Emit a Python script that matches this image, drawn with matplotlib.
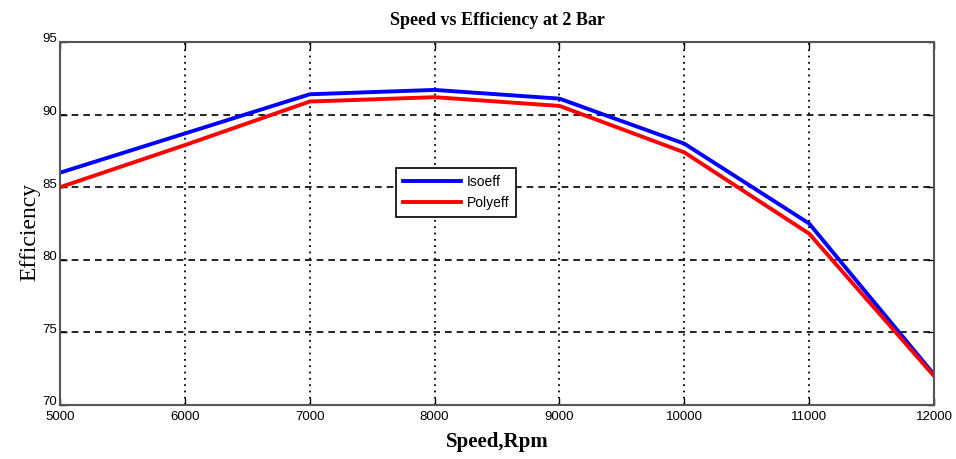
import matplotlib.pyplot as plt
import matplotlib.transforms as mtransforms

# speed (rpm) and efficiencies
speed = [5000, 6000, 7000, 8000, 9000, 10000, 11000, 12000]
isoeff = [86.0, 88.7, 91.4, 91.7, 91.1, 88.0, 82.5, 72.1]
polyeff = [85.0, 87.9, 90.9, 91.2, 90.6, 87.4, 81.8, 72.0]

x_ticks = [5000, 6000, 7000, 8000, 9000, 10000, 11000, 12000]
y_ticks = [70, 75, 80, 85, 90, 95]

tick_font = ['Liberation Sans Narrow', 'Liberation Sans', 'DejaVu Sans']

fig = plt.figure(figsize=(9.56, 4.59), dpi=100)
ax = fig.add_axes([0.0628, 0.1176, 0.9142, 0.7909])

ax.plot(speed, isoeff, color='blue', lw=2.8, label='Isoeff')
ax.plot(speed, polyeff, color='red', lw=2.8, label='Polyeff')

ax.set_xlim(5000, 12000)
ax.set_ylim(70, 95)
ax.set_xticks(x_ticks)
ax.set_yticks(y_ticks)

# matlab style grid: dashed horizontal, dotted vertical
ax.xaxis.grid(True, linestyle=(0, (1, 2.5)), color='black', lw=1.3)
ax.yaxis.grid(True, linestyle=(0, (4, 3)), color='black', lw=1.2)

ax.tick_params(direction='in', top=True, right=True, length=5, width=1,
               labelsize=9.5, pad=2)
ax.tick_params(axis='x', pad=4)
# y labels sit a little above their ticks in the original
up = mtransforms.ScaledTranslation(0, 3 / 72, fig.dpi_scale_trans)
for lab in ax.get_yticklabels():
    lab.set_transform(lab.get_transform() + up)
for lab in ax.get_xticklabels() + ax.get_yticklabels():
    lab.set_family(tick_font)
for s in ax.spines.values():
    s.set_color('#555555')
    s.set_linewidth(1.5)

ax.set_title('Speed vs Efficiency at 2 Bar', family='Liberation Serif',
             fontweight='bold', fontsize=13, pad=12)
ax.set_xlabel('Speed,Rpm', family='Liberation Serif', fontweight='bold',
              fontsize=15, labelpad=7)
ax.set_ylabel('Efficiency', family='Liberation Serif', fontsize=17)
ax.yaxis.set_label_coords(-0.023, 0.477)

leg = ax.legend(loc='center', bbox_to_anchor=(0.453, 0.585), fancybox=False,
                edgecolor='black', framealpha=1, handlelength=4.2,
                prop={'family': tick_font, 'size': 10}, borderpad=0.5,
                labelspacing=0.5, handletextpad=0.4)
leg.get_frame().set_linewidth(1.2)

fig.savefig('out.png', dpi=100)
